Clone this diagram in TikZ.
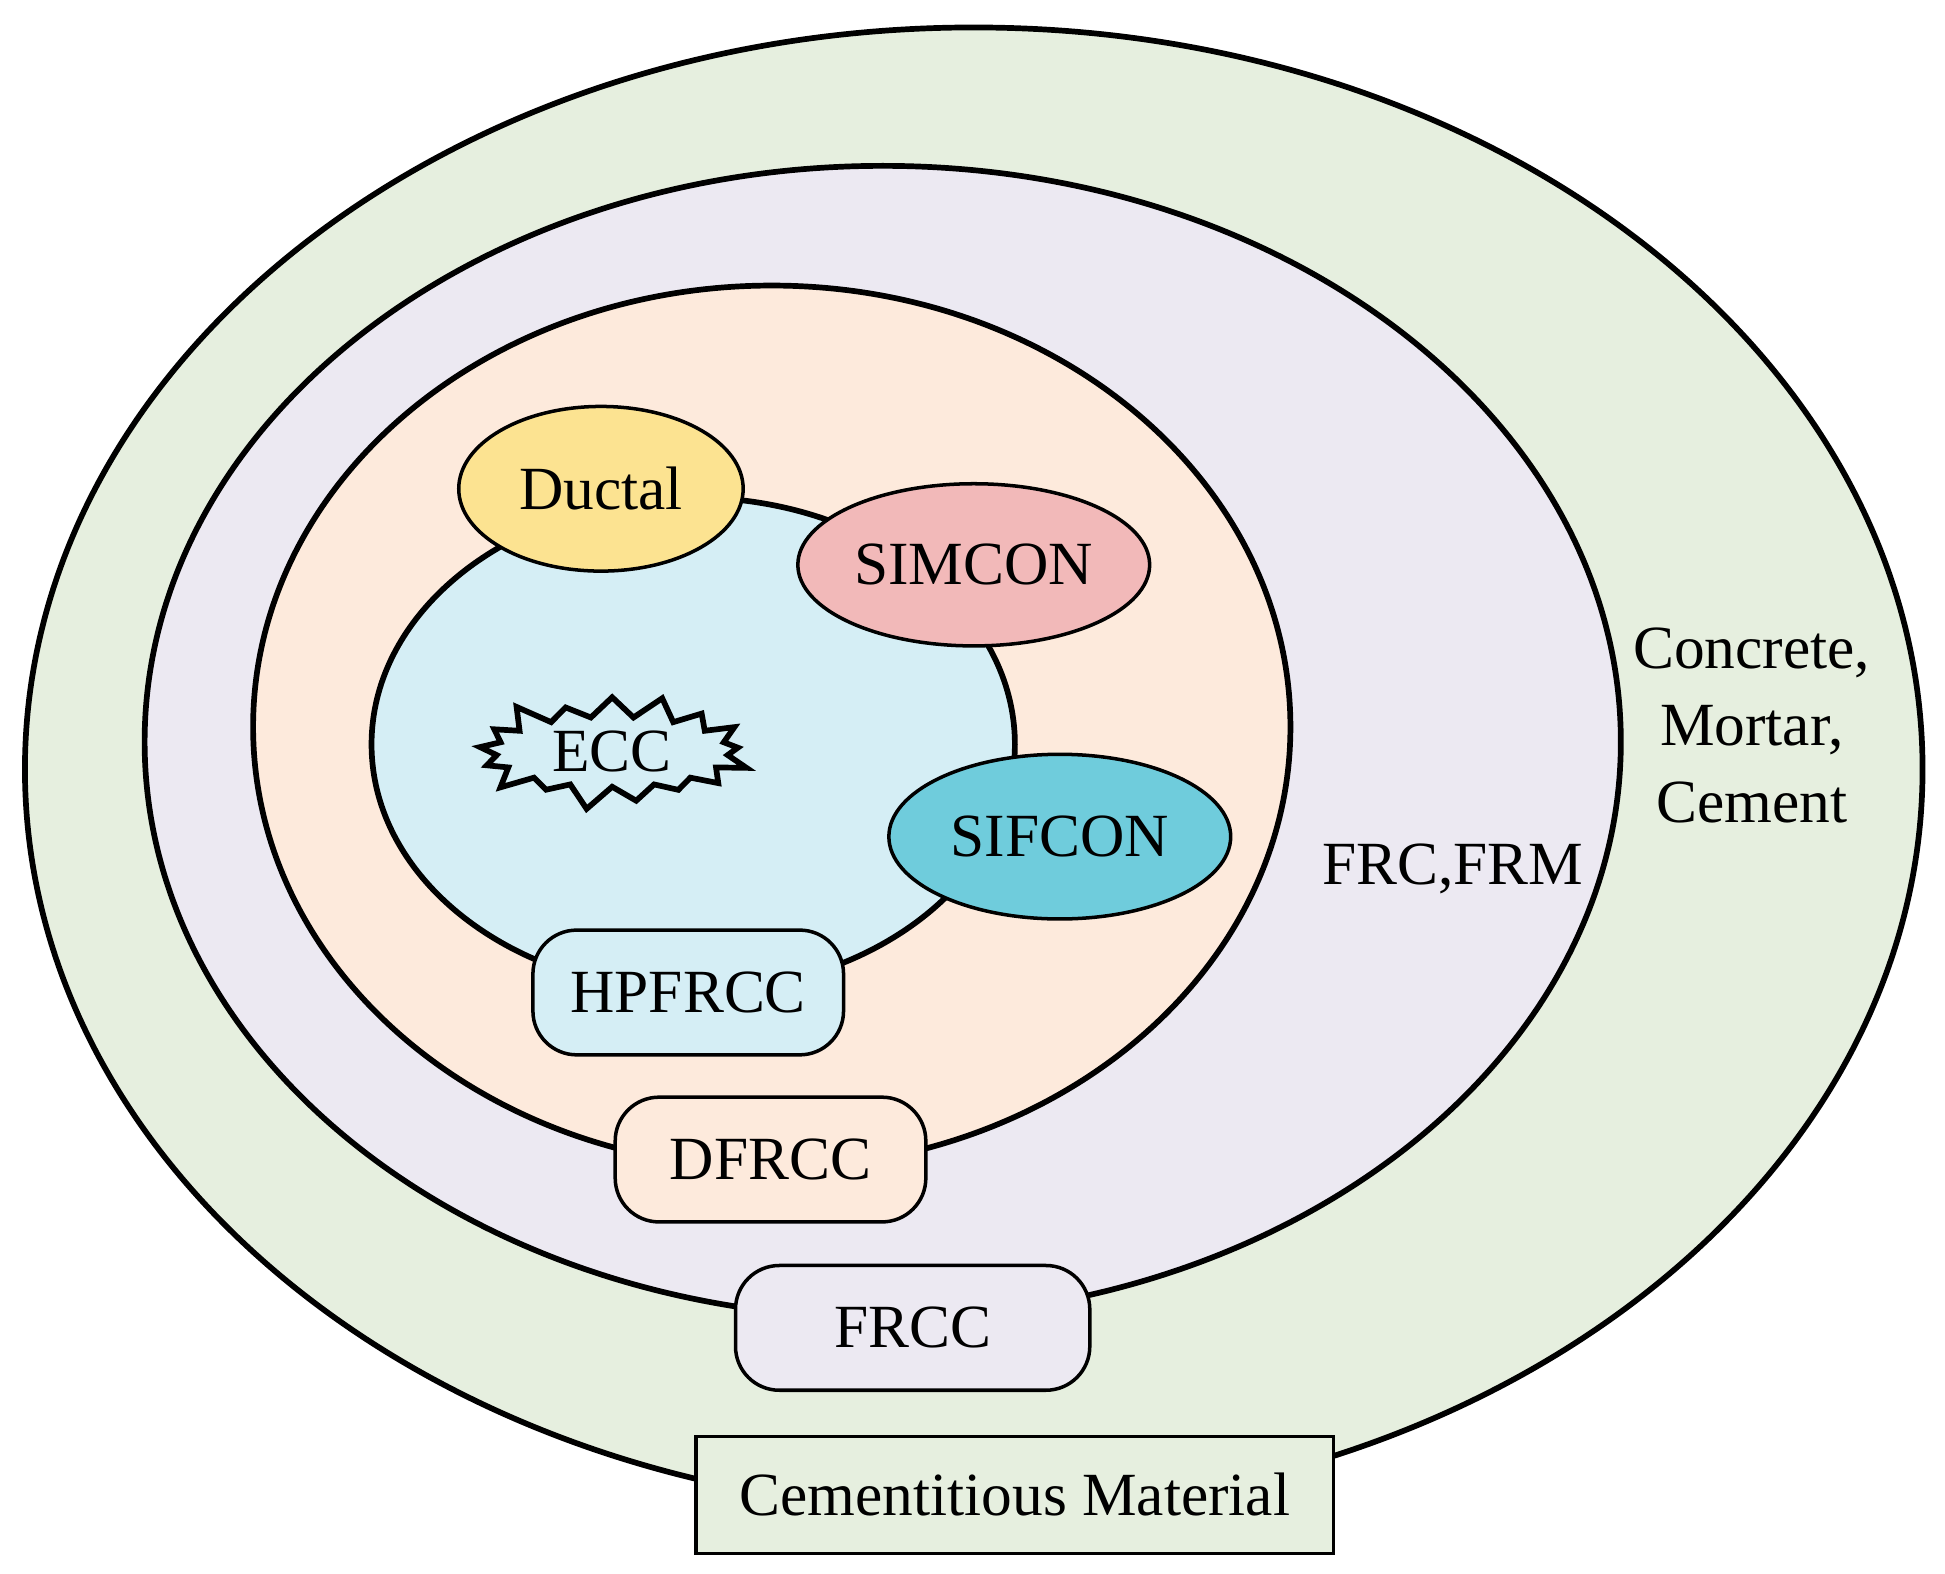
\documentclass[tikz,border=0pt]{standalone}
\usepackage{fontspec}
\setmainfont{Liberation Serif}
\usetikzlibrary{shapes.symbols,shapes.geometric}
\definecolor{cgreen}{HTML}{E6EFDF}
\definecolor{clav}{HTML}{ECE9F2}
\definecolor{cpeach}{HTML}{FDEADC}
\definecolor{cblue}{HTML}{D5EEF5}
\definecolor{cyell}{HTML}{FCE391}
\definecolor{cpink}{HTML}{F2B9B9}
\definecolor{ccyan}{HTML}{6FCCDC}
\begin{document}
\begin{tikzpicture}[x=0.01cm,y=-0.01cm,line width=1.3pt,
  every node/.style={font=\fontsize{14}{17}\selectfont},
  rbox/.style={draw,rounded corners=10pt,minimum width=2.49cm,minimum height=1.0cm,line width=0.8pt},
  oval/.style={draw,ellipse,line width=0.8pt,inner sep=0pt}]
\useasboundingbox (0,0) rectangle (1560,1262);
\fill[cgreen] (781,617) ellipse [x radius=761,y radius=595];
\draw (781,617) ellipse [x radius=761,y radius=595];
\fill[clav] (708,595) ellipse [x radius=592,y radius=462];
\draw (708,595) ellipse [x radius=592,y radius=462];
\fill[cpeach] (619,583) ellipse [x radius=416,y radius=354];
\draw (619,583) ellipse [x radius=416,y radius=354];
\fill[cblue] (556,597) ellipse [x radius=258,y radius=198];
\draw (556,597) ellipse [x radius=258,y radius=198];
\node[oval,fill=cyell,minimum width=2.28cm,minimum height=1.32cm] (ductal) at (482,392) {Ductal};
\node[oval,fill=cpink,minimum width=2.82cm,minimum height=1.30cm] (simcon) at (781,453) {SIMCON};
\node[oval,fill=ccyan,minimum width=2.74cm,minimum height=1.32cm] (sifcon) at (850,671) {SIFCON};
\node[draw,fill=cblue,starburst,starburst points=17,starburst point height=0.22cm,minimum width=2.3cm,minimum height=1.0cm,line width=1.3pt,inner sep=0pt] (ecc) at (491,603) {ECC};
\node[rbox,fill=cblue] (hpfrcc) at (552,796) {HPFRCC};
\node[rbox,fill=cpeach] (dfrcc) at (618,930) {DFRCC};
\node[rbox,fill=clav,minimum width=2.84cm] (frcc) at (732,1065) {FRCC};
\node[draw,fill=cgreen,minimum width=5.11cm,minimum height=0.94cm,line width=0.8pt] (cem) at (814,1199) {Cementitious Material};
\node (frc) at (1165,697) {FRC,FRM};
\node[align=center,font=\fontsize{14}{17.5}\selectfont] (conc) at (1405,582) {Concrete,\\Mortar,\\Cement};
\end{tikzpicture}
\end{document}
